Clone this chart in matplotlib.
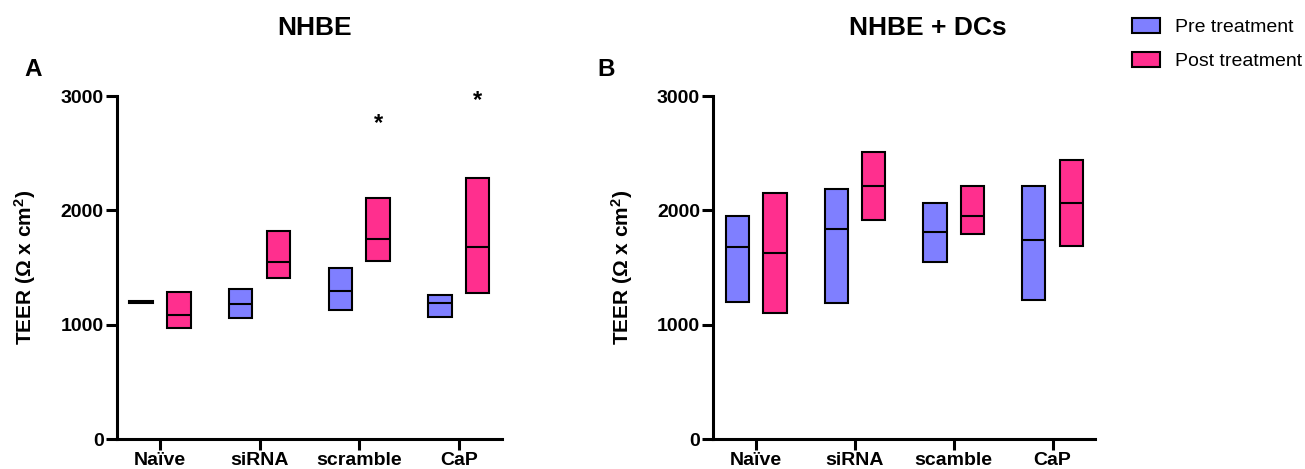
import matplotlib
matplotlib.use("Agg")
import matplotlib.pyplot as plt
from matplotlib.patches import Patch

plt.rcParams['font.family'] = ['Liberation Sans', 'DejaVu Sans']
plt.rcParams['mathtext.fontset'] = 'custom'
plt.rcParams['mathtext.bf'] = 'Liberation Sans:bold'
plt.rcParams['mathtext.rm'] = 'Liberation Sans:bold'
plt.rcParams['mathtext.default'] = 'bf'

groups_a = ["Naïve", "siRNA", "scramble", "CaP"]
groups_b = ["Naïve", "siRNA", "scamble", "CaP"]

# panel A (NHBE): min / median / max
a_pre_min = [1192, 1061, 1125, 1067]
a_pre_med = [1200, 1178, 1297, 1192]
a_pre_max = [1208, 1309, 1496, 1262]
a_post_min = [971, 1411, 1554, 1280]
a_post_med = [1087, 1548, 1752, 1679]
a_post_max = [1286, 1819, 2111, 2283]
a_stars = [None, None, 2705, 2905]

# panel B (NHBE + DCs)
b_pre_min = [1201, 1192, 1548, 1219]
b_pre_med = [1679, 1840, 1813, 1743]
b_pre_max = [1950, 2184, 2061, 2210]
b_post_min = [1102, 1915, 1793, 1691]
b_post_med = [1630, 2210, 1950, 2064]
b_post_max = [2155, 2507, 2210, 2443]

c_pre = '#7f7fff'
c_post = '#ff2f8e'
off = 0.19
w = 0.235

fig = plt.figure(figsize=(13.05, 4.69), dpi=100)
ax_a = fig.add_axes([116.7/1305, 30/469, 385/1305, 343/469])
ax_b = fig.add_axes([713.3/1305, 30/469, 381.7/1305, 343/469])


def floating(ax, x, lo, med, hi, color):
    ax.bar(x, [h - l for h, l in zip(hi, lo)], bottom=lo, width=w,
           color=color, edgecolor='black', linewidth=1.5, zorder=2)
    for xi, m in zip(x, med):
        ax.hlines(m, xi - w/2, xi + w/2, color='black', linewidth=1.5, zorder=3)


def style(ax, labels):
    ax.set_xlim(-0.435, 3.43)
    ax.set_ylim(0, 3000)
    ax.set_yticks([0, 1000, 2000, 3000])
    ax.set_xticks(range(4))
    ax.set_xticklabels(labels, fontsize=14, fontweight='bold')
    for t in ax.get_yticklabels():
        t.set_fontsize(14)
        t.set_fontweight('bold')
    for s in ['top', 'right']:
        ax.spines[s].set_visible(False)
    for s in ['left', 'bottom']:
        ax.spines[s].set_linewidth(2.2)
    ax.tick_params(width=2.2, length=8, pad=1.5, colors='black')
    ax.tick_params(axis='x', pad=1.0)
    ax.set_ylabel('TEER (Ω x cm$^2$)', fontsize=15, fontweight='bold')
    ax.yaxis.set_label_coords(-0.205, 0.5)


xs = list(range(4))
floating(ax_a, [x - off for x in xs], a_pre_min, a_pre_med, a_pre_max, c_pre)
floating(ax_a, [x + off for x in xs], a_post_min, a_post_med, a_post_max, c_post)
for x, s in zip(xs, a_stars):
    if s is not None:
        ax_a.text(x + off, s, '*', ha='center', va='baseline', fontsize=17, fontweight='bold')
style(ax_a, groups_a)

floating(ax_b, [x - off for x in xs], b_pre_min, b_pre_med, b_pre_max, c_pre)
floating(ax_b, [x + off for x in xs], b_post_min, b_post_med, b_post_max, c_post)
style(ax_b, groups_b)

fig.text(315/1305, 1 - 28/469, 'NHBE', ha='center', va='center', fontsize=19, fontweight='bold')
fig.text(928/1305, 1 - 28/469, 'NHBE + DCs', ha='center', va='center', fontsize=19, fontweight='bold')
fig.text(33/1305, 1 - 70/469, 'A', ha='center', va='center', fontsize=17.5, fontweight='bold')
fig.text(606/1305, 1 - 70/469, 'B', ha='center', va='center', fontsize=17.5, fontweight='bold')

handles = [Patch(facecolor=c_pre, edgecolor='black', linewidth=1.5, label='Pre treatment'),
           Patch(facecolor=c_post, edgecolor='black', linewidth=1.5, label='Post treatment')]
fig.legend(handles=handles, loc='upper left', bbox_to_anchor=(1132/1305, 1 - 18/469),
           frameon=False, fontsize=14, borderpad=0, borderaxespad=0,
           handlelength=1.45, handleheight=0.8, handletextpad=0.77, labelspacing=0.8)

fig.savefig('out.png', dpi=100)
